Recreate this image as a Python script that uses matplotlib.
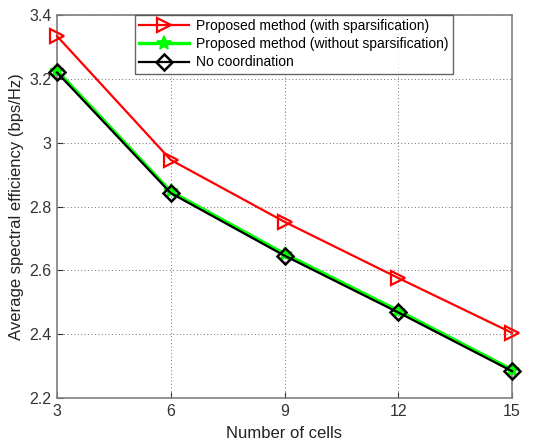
"""
Average spectral efficiency versus number of cells.
"""

import matplotlib
matplotlib.use('Agg')
import matplotlib.pyplot as plt

cells = [3, 6, 9, 12, 15]
with_sparse = [3.334, 2.946, 2.752, 2.576, 2.404]
without_sparse = [3.226, 2.847, 2.652, 2.474, 2.289]
no_coord = [3.220, 2.842, 2.646, 2.468, 2.284]

x_ticks = [3, 6, 9, 12, 15]
y_ticks = [2.2, 2.4, 2.6, 2.8, 3.0, 3.2, 3.4]
y_labels = ['2.2', '2.4', '2.6', '2.8', '3', '3.2', '3.4']

plt.rcParams['font.family'] = ['Liberation Sans', 'DejaVu Sans']

fig = plt.figure(figsize=(5.57, 4.44), dpi=100)
ax = fig.add_axes([57/557, 46/444, 455/557, 383/444])

ax.plot(cells, with_sparse, color='red', lw=1.6, marker='>', ms=10,
        mfc='none', mew=1.6, clip_on=False, zorder=4,
        label='Proposed method (with sparsification)')
ax.plot(cells, without_sparse, color='#00ff00', lw=2.4, marker='*', ms=10,
        mew=1.2, clip_on=False, zorder=4,
        label='Proposed method (without sparsification)')
ax.plot(cells, no_coord, color='black', lw=1.6, marker='D', ms=8,
        mfc='none', mew=1.8, clip_on=False, zorder=5,
        label='No coordination')

ax.set_xlim(3, 15)
ax.set_ylim(2.2, 3.4)
ax.set_xticks(x_ticks)
ax.set_yticks(y_ticks)
ax.set_yticklabels(y_labels)
ax.grid(True, color='#707070', lw=0.7, dashes=(1, 2.5))
ax.tick_params(direction='in', labelsize=11.5, colors='#333333', length=4,
               pad=4)
for sp in ax.spines.values():
    sp.set_color('#808080')
    sp.set_linewidth(1.2)

ax.set_xlabel('Number of cells', fontsize=12, color='#222222', labelpad=5)
ax.set_ylabel('Average spectral efficiency (bps/Hz)', fontsize=12,
              color='#222222', labelpad=4)

leg = ax.legend(loc='upper left', bbox_to_anchor=(78/455, 1.0), fontsize=10,
                frameon=True, fancybox=False, borderaxespad=0,
                handlelength=3.6, borderpad=0.3, labelspacing=0.3,
                handletextpad=0.5)
leg.get_frame().set_edgecolor('#404040')
leg.get_frame().set_linewidth(1.0)

plt.savefig('out.png', dpi=100)
